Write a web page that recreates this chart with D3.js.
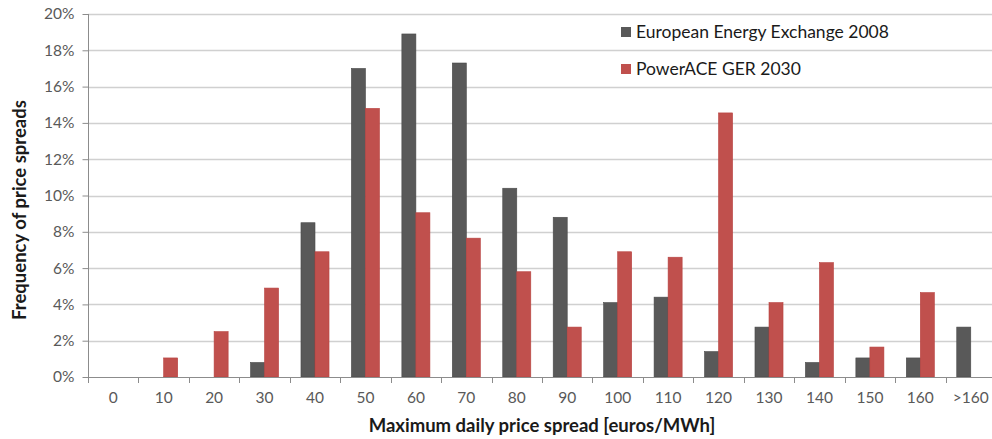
<!DOCTYPE html>
<html>
<head>
<meta charset="utf-8">
<script src="https://cdn.jsdelivr.net/npm/d3@7"></script>
<style>
  html, body { margin: 0; padding: 0; background: #fff; }
  svg { display: block; font-family: Lato, "Open Sans", sans-serif; }
</style>
</head>
<body>
<svg id="chart" width="992" height="439"></svg>
<script>
const categories = ["0","10","20","30","40","50","60","70","80","90","100","110","120","130","140","150","160",">160"];
const seriesNames = ["European Energy Exchange 2008", "PowerACE GER 2030"];
const eex2008 = [0, 0, 0, 0.8, 8.5, 17.0, 18.9, 17.3, 10.4, 8.8, 4.1, 4.4, 1.4, 2.75, 0.8, 1.05, 1.05, 2.75];
const powerace2030 = [0, 1.05, 2.5, 4.9, 6.9, 14.8, 9.05, 7.65, 5.8, 2.75, 6.9, 6.6, 14.55, 4.1, 6.3, 1.65, 4.65, 0];
const yTicks = [0, 2, 4, 6, 8, 10, 12, 14, 16, 18, 20];
const colors = ["#595959", "#C0504D"];
const strokeColors = ["#4a4a4a", "#b8423f"];

const svg = d3.select("#chart");
const mLeft = 88, mRight = 996, mTop = 14, mBottom = 377;

const x0 = d3.scaleBand().domain(categories).range([mLeft, mRight]).paddingInner(0.444).paddingOuter(0.222);
const x1 = d3.scaleBand().domain([0, 1]).range([0, x0.bandwidth()]);
const y = d3.scaleLinear().domain([0, 20]).range([mBottom, mTop]);

// gridlines
svg.append("g").selectAll("line").data(yTicks.filter(d => d > 0)).join("line")
  .attr("x1", mLeft).attr("x2", mRight)
  .attr("y1", d => Math.round(y(d)) + 0.5).attr("y2", d => Math.round(y(d)) + 0.5)
  .attr("stroke", "#d0d0d0").attr("stroke-width", 1.5);

// bars
const data = categories.map((c, i) => ({ c, vals: [eex2008[i], powerace2030[i]] }));
const groups = svg.append("g").selectAll("g").data(data).join("g")
  .attr("transform", d => `translate(${x0(d.c)},0)`);
groups.selectAll("rect").data(d => d.vals.map((v, k) => ({ v, k })).filter(e => e.v > 0)).join("rect")
  .attr("x", d => x1(d.k))
  .attr("width", x1.bandwidth())
  .attr("y", d => y(d.v))
  .attr("height", d => y(0) - y(d.v))
  .attr("fill", d => colors[d.k])
  .attr("stroke", d => strokeColors[d.k])
  .attr("stroke-width", 0.6);

// y axis
const yAxis = d3.axisLeft(y).tickValues(yTicks).tickFormat(d => d + "%").tickSize(6).tickPadding(8);
const gy = svg.append("g").attr("transform", `translate(${mLeft + 0.5},0)`).call(yAxis);
gy.select(".domain").attr("stroke", "#8c8c8c").attr("d", `M0,${y(20)}V${y(0)}`);
gy.selectAll(".tick line").attr("stroke", "#8c8c8c");
gy.selectAll(".tick text").attr("fill", "#595959").attr("font-size", 15.5).attr("font-family", "Lato, sans-serif");

// x axis
const xAxis = d3.axisBottom(x0).tickSize(0).tickPadding(14);
const gx = svg.append("g").attr("transform", `translate(0,${mBottom + 0.5})`).call(xAxis);
gx.select(".domain").attr("stroke", "#8c8c8c").attr("d", `M${mLeft},0H${mRight}`);
gx.selectAll(".tick text").attr("fill", "#595959").attr("font-size", 15.5).attr("font-family", "Lato, sans-serif");
// category boundary ticks
const bounds = categories.map(c => x0(c) - x0.step() * x0.paddingOuter());
svg.append("g").selectAll("line").data(bounds).join("line")
  .attr("x1", d => Math.round(d) + 0.5).attr("x2", d => Math.round(d) + 0.5)
  .attr("y1", mBottom).attr("y2", mBottom + 6)
  .attr("stroke", "#8c8c8c");

// axis titles
svg.append("text").attr("x", 542).attr("y", 432).attr("text-anchor", "middle")
  .attr("font-weight", "bold").attr("font-size", 18.5).attr("fill", "#1a1a1a")
  .text("Maximum daily price spread [euros/MWh]");
svg.append("text").attr("transform", "translate(26,210) rotate(-90)").attr("text-anchor", "middle")
  .attr("font-weight", "bold").attr("font-size", 18.5).attr("fill", "#1a1a1a")
  .text("Frequency of price spreads");

// legend
const legend = svg.append("g").attr("transform", "translate(621,27)");
seriesNames.forEach((name, i) => {
  const g = legend.append("g").attr("transform", `translate(0,${i * 37})`);
  g.append("rect").attr("width", 10).attr("height", 10).attr("fill", colors[i]);
  g.append("text").attr("x", 15).attr("y", 11).attr("font-size", 17.5).attr("fill", "#1a1a1a").text(name);
});
</script>
</body>
</html>
